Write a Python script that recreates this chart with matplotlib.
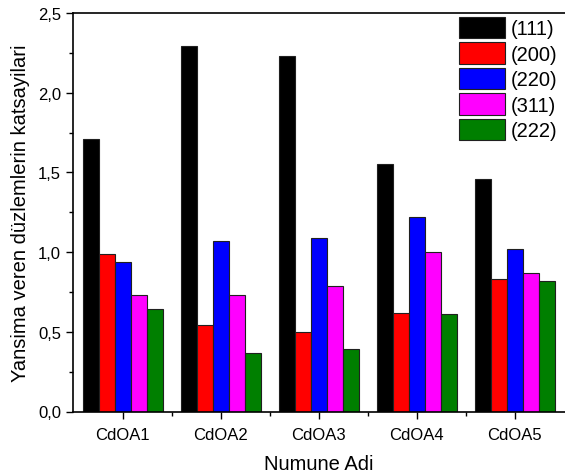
import matplotlib
matplotlib.use("Agg")
import matplotlib.pyplot as plt
import numpy as np
from matplotlib.ticker import MultipleLocator, FuncFormatter, FixedLocator

plt.rcParams['font.family'] = ['Liberation Sans', 'DejaVu Sans']

samples = ["CdOA1", "CdOA2", "CdOA3", "CdOA4", "CdOA5"]
planes = ["(111)", "(200)", "(220)", "(311)", "(222)"]
v111 = [1.71, 2.29, 2.23, 1.55, 1.46]
v200 = [0.99, 0.54, 0.50, 0.62, 0.83]
v220 = [0.94, 1.07, 1.09, 1.22, 1.02]
v311 = [0.73, 0.73, 0.79, 1.00, 0.87]
v222 = [0.64, 0.37, 0.39, 0.61, 0.82]
series = [v111, v200, v220, v311, v222]
colors = ["#000000", "#ff0000", "#0000ff", "#ff00ff", "#007f00"]

fig = plt.figure(figsize=(5.65, 4.77), dpi=100)
ax = fig.add_axes([73/565, (477-412.5)/477, 1-73/565, (412.5-14)/477])

x = np.arange(1, len(samples)+1)
w = 0.163
for i, (vals, c, lab) in enumerate(zip(series, colors, planes)):
    ax.bar(x + (i-2)*w, vals, width=w, color=c, edgecolor="#202020", linewidth=0.8, label=lab, zorder=2)

ax.set_xlim(0.493, 5.513)
ax.set_ylim(0, 2.5)
ax.yaxis.set_major_locator(MultipleLocator(0.5))
ax.yaxis.set_minor_locator(MultipleLocator(0.25))
ax.yaxis.set_major_formatter(FuncFormatter(lambda v, p: f"{v:.1f}".replace(".", ",")))
ax.set_xticks(x)
ax.set_xticklabels(samples)
ax.xaxis.set_minor_locator(FixedLocator([1.5, 2.5, 3.5, 4.5]))
ax.tick_params(axis='both', which='major', direction='out', length=5, width=1, labelsize=12)
ax.tick_params(axis='both', which='minor', direction='out', length=3, width=1)
ax.tick_params(axis='x', pad=6)
ax.spines['right'].set_visible(False)
for s in ['left', 'bottom', 'top']:
    ax.spines[s].set_linewidth(1.2)

ax.set_xlabel("Numune Adi", fontsize=14.5, labelpad=9)
ax.set_ylabel("Yansima veren düzlemlerin katsayilari", fontsize=14.5, labelpad=6)

leg = ax.legend(loc='upper left', bbox_to_anchor=(459/565, 1-18/477), bbox_transform=fig.transFigure,
                frameon=False, fontsize=14.5, handlelength=2.3, handleheight=1.25,
                labelspacing=0.2, handletextpad=0.25, borderaxespad=0, borderpad=0)

fig.savefig("out.png", dpi=100)
